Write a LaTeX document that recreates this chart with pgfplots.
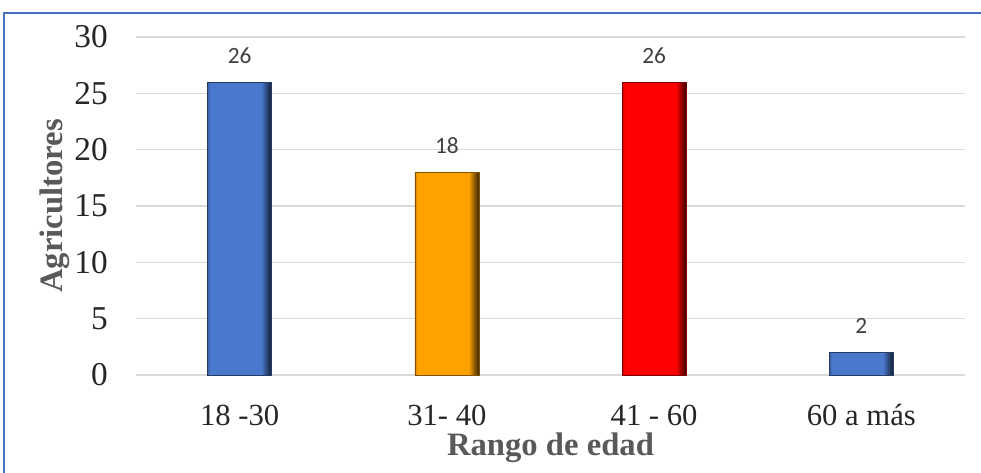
\documentclass[border=0pt]{standalone}
\usepackage{fontspec}
\setmainfont{Liberation Serif}
\newfontfamily\calibri{Carlito}
\usepackage{pgfplots}
\pgfplotsset{compat=1.18}
\definecolor{frameblue}{HTML}{4472C4}
\definecolor{barblue}{HTML}{4A78CC}
\definecolor{barorange}{HTML}{FFA200}
\definecolor{barred}{HTML}{FF0000}
\definecolor{gridgray}{HTML}{D9D9D9}
\definecolor{labgray}{HTML}{595959}
\definecolor{dlab}{HTML}{404040}
\pgfdeclarehorizontalshading{blueS}{100bp}{color(0bp)=(barblue!80!black); color(25bp)=(barblue!80!black); color(27bp)=(barblue); color(67bp)=(barblue); color(72bp)=(barblue!50!black); color(75bp)=(barblue!25!black); color(100bp)=(barblue!25!black)}
\pgfdeclarehorizontalshading{orangeS}{100bp}{color(0bp)=(barorange!80!black); color(25bp)=(barorange!80!black); color(27bp)=(barorange); color(67bp)=(barorange); color(72bp)=(barorange!50!black); color(75bp)=(barorange!25!black); color(100bp)=(barorange!25!black)}
\pgfdeclarehorizontalshading{redS}{100bp}{color(0bp)=(barred!80!black); color(25bp)=(barred!80!black); color(27bp)=(barred); color(67bp)=(barred); color(72bp)=(barred!50!black); color(75bp)=(barred!25!black); color(100bp)=(barred!25!black)}
\begin{document}
\begin{tikzpicture}[x=0.75pt,y=0.75pt]
\useasboundingbox (0,0) rectangle (981,473);
\draw[frameblue, line width=1.5pt] (4,0) -- (4,460) -- (981,460);
\begin{axis}[
  at={(136pt*0.75,98pt*0.75)}, anchor=south west,
  scale only axis,
  width=621.75pt, height=253.5pt,
  xmin=-0.5, xmax=3.5, ymin=0, ymax=30,
  ytick={0,5,...,30},
  xtick={0,1,2,3},
  xticklabels={18 -30, 31- 40, 41 - 60, 60 a más},
  axis line style={draw=none},
  major tick length=0pt,
  ymajorgrids, grid style={gridgray, line width=0.9pt},
  extra y ticks={0}, extra y tick style={grid style={gridgray, line width=1.2pt}, yticklabels={}},
  /pgf/number format/assume math mode=true,
  ticklabel style={font=\fontsize{25}{27}\selectfont, text=black!85},
  yticklabel style={anchor=east, inner sep=0pt, xshift=-21pt},
  xticklabel style={anchor=base, inner sep=0pt, yshift=-38pt, font=\fontsize{23}{25}\selectfont},
  ylabel={Agricultores},
  ylabel style={at={(axis description cs:-0.098,0.5)}, anchor=center, rotate=0, font=\fontsize{24.5}{26}\selectfont\bfseries, text=labgray},
  xlabel={Rango de edad},
  xlabel style={at={(axis description cs:0.5,-0.216)}, anchor=center, font=\fontsize{24.5}{26}\selectfont\bfseries, text=labgray},
  ybar, bar width=48pt, bar shift=0pt,
  nodes near coords,
  nodes near coords style={anchor=base, inner sep=0pt, yshift=14pt, font=\calibri\fontsize{17.5}{19}\selectfont, text=dlab},
  clip=false,
]
\addplot[shading=blueS, draw=barblue!50!black, line width=0.5pt] coordinates {(0,26)};
\addplot[shading=orangeS, draw=barorange!50!black, line width=0.5pt] coordinates {(1,18)};
\addplot[shading=redS, draw=barred!50!black, line width=0.5pt] coordinates {(2,26)};
\addplot[shading=blueS, draw=barblue!50!black, line width=0.5pt] coordinates {(3,2)};
\end{axis}
\end{tikzpicture}
\end{document}
